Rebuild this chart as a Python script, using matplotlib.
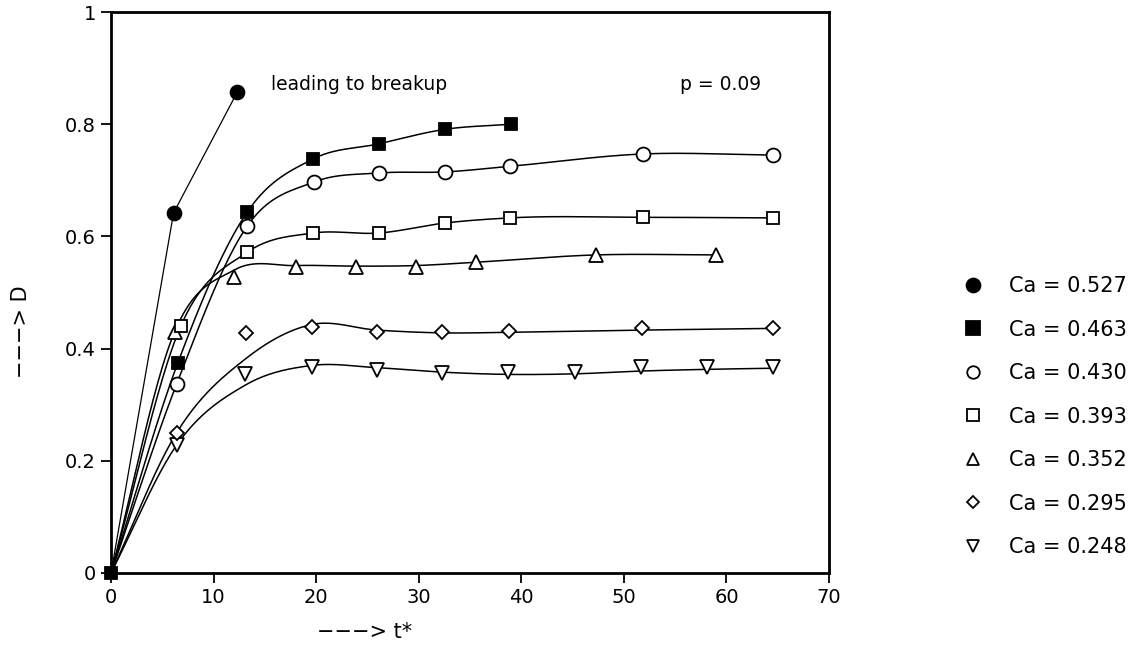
import numpy as np
import matplotlib
matplotlib.use('Agg')
import matplotlib.pyplot as plt
from matplotlib.lines import Line2D

# marker positions (t*, D)
t_527 = [0, 6.1, 12.3]
d_527 = [0, 0.642, 0.857]

t_463 = [0, 6.5, 13.3, 19.7, 26.1, 32.6, 39.0]
d_463 = [0, 0.374, 0.644, 0.738, 0.765, 0.791, 0.800]

t_430 = [0, 6.4, 13.3, 19.8, 26.1, 32.6, 38.9, 51.9, 64.5]
d_430 = [0, 0.337, 0.619, 0.697, 0.713, 0.715, 0.725, 0.747, 0.745]

t_393 = [0, 6.8, 13.3, 19.7, 26.1, 32.6, 38.9, 51.9, 64.5]
d_393 = [0, 0.440, 0.572, 0.606, 0.606, 0.624, 0.633, 0.634, 0.633]

t_352 = [0, 6.2, 12.0, 18.0, 23.9, 29.7, 35.6, 47.3, 59.0]
d_352 = [0, 0.430, 0.528, 0.546, 0.546, 0.546, 0.554, 0.567, 0.567]

t_295 = [0, 6.4, 13.2, 19.6, 25.9, 32.3, 38.8, 51.8, 64.5]
d_295 = [0, 0.250, 0.428, 0.439, 0.429, 0.430, 0.431, 0.436, 0.436]

t_248 = [0, 6.4, 13.1, 19.6, 25.9, 32.3, 38.7, 45.2, 51.7, 58.1, 64.5]
d_248 = [0, 0.228, 0.355, 0.368, 0.362, 0.357, 0.358, 0.358, 0.367, 0.367, 0.367]

# hand-drawn fit curves, read at the marker times (differ from markers where the curve misses them)
fit_352 = [0, 0.430, 0.540, 0.548, 0.547, 0.548, 0.554, 0.567, 0.567]
fit_295 = [0, 0.250, 0.383, 0.443, 0.433, 0.428, 0.429, 0.433, 0.436]
fit_248 = [0, 0.228, 0.335, 0.370, 0.366, 0.358, 0.354, 0.355, 0.360, 0.363, 0.365]

labels = ["Ca = 0.527", "Ca = 0.463", "Ca = 0.430", "Ca = 0.393",
          "Ca = 0.352", "Ca = 0.295", "Ca = 0.248"]


def smooth(t, d, n=400):
    # cubic hermite through the nodes, slopes from finite differences
    t = np.asarray(t, float)
    d = np.asarray(d, float)
    m = np.gradient(d, t)
    tt = np.linspace(t[0], t[-1], n)
    i = np.clip(np.searchsorted(t, tt) - 1, 0, len(t) - 2)
    h = t[i + 1] - t[i]
    s = (tt - t[i]) / h
    h00 = 2*s**3 - 3*s**2 + 1
    h10 = s**3 - 2*s**2 + s
    h01 = -2*s**3 + 3*s**2
    h11 = s**3 - s**2
    return tt, h00*d[i] + h10*h*m[i] + h01*d[i + 1] + h11*h*m[i + 1]


plt.rcParams['font.family'] = 'DejaVu Sans'

fig = plt.figure(figsize=(11.47, 6.5), dpi=100)
ax = fig.add_axes([0.0968, 0.1185, 0.626, 0.863])

lw = 1.1
ax.plot(t_527, d_527, color='k', lw=0.9, zorder=2)
for t, d in [(t_463, d_463), (t_430, d_430), (t_393, d_393),
             (t_352, fit_352), (t_295, fit_295), (t_248, fit_248)]:
    tt, dd = smooth(t, d)
    ax.plot(tt, dd, color='k', lw=lw, zorder=2)

mk = dict(linestyle='none', markeredgecolor='k', markeredgewidth=1.3, zorder=3)
series = [
    (t_248, d_248, 'v', 'white', 9.5),
    (t_295, d_295, 'D', 'white', 7),
    (t_352, d_352, '^', 'white', 9.5),
    (t_393, d_393, 's', 'white', 9),
    (t_430, d_430, 'o', 'white', 10),
    (t_463, d_463, 's', 'black', 9),
    (t_527, d_527, 'o', 'black', 10),
]
for t, d, m, fc, ms in series:
    ax.plot(t[1:], d[1:], marker=m, markerfacecolor=fc, markersize=ms, **mk)
ax.plot([0], [0], marker='s', markerfacecolor='k', markersize=9, clip_on=False, **mk)

ax.set_xlim(0, 70)
ax.set_ylim(0, 1)
ax.set_xticks([0, 10, 20, 30, 40, 50, 60, 70])
ax.set_yticks([0, 0.2, 0.4, 0.6, 0.8, 1])
ax.set_yticklabels(['0', '0.2', '0.4', '0.6', '0.8', '1'])
ax.tick_params(direction='out', length=7, width=1.3, labelsize=14, pad=4,
               top=False, right=False)
for sp in ax.spines.values():
    sp.set_linewidth(2)

ax.text(15.6, 0.87, "leading to breakup", fontsize=13.5, va='center', ha='left')
ax.text(55.5, 0.871, "p = 0.09", fontsize=13.5, va='center', ha='left')

fig.text(317/1147, 1 - 632/650, "−−−> t*", fontsize=15, va='center', ha='left')
fig.text(21/1147, 1 - 332/650, "−−−> D", fontsize=15, va='center', ha='center',
         rotation=90)

handles = [
    Line2D([], [], marker='o', markerfacecolor='k', **mk, markersize=10),
    Line2D([], [], marker='s', markerfacecolor='k', **mk, markersize=10),
    Line2D([], [], marker='o', markerfacecolor='white', **mk, markersize=9),
    Line2D([], [], marker='s', markerfacecolor='white', **mk, markersize=9),
    Line2D([], [], marker='^', markerfacecolor='white', **mk, markersize=9),
    Line2D([], [], marker='D', markerfacecolor='white', **mk, markersize=6.5),
    Line2D([], [], marker='v', markerfacecolor='white', **mk, markersize=9),
]
fig.legend(handles, labels, loc='upper left', bbox_to_anchor=(963/1147, 1 - 276/650),
           frameon=False, fontsize=15, handlelength=1.0, handletextpad=1.2,
           labelspacing=1.13, borderpad=0, borderaxespad=0)

fig.savefig('out.png', dpi=100)
